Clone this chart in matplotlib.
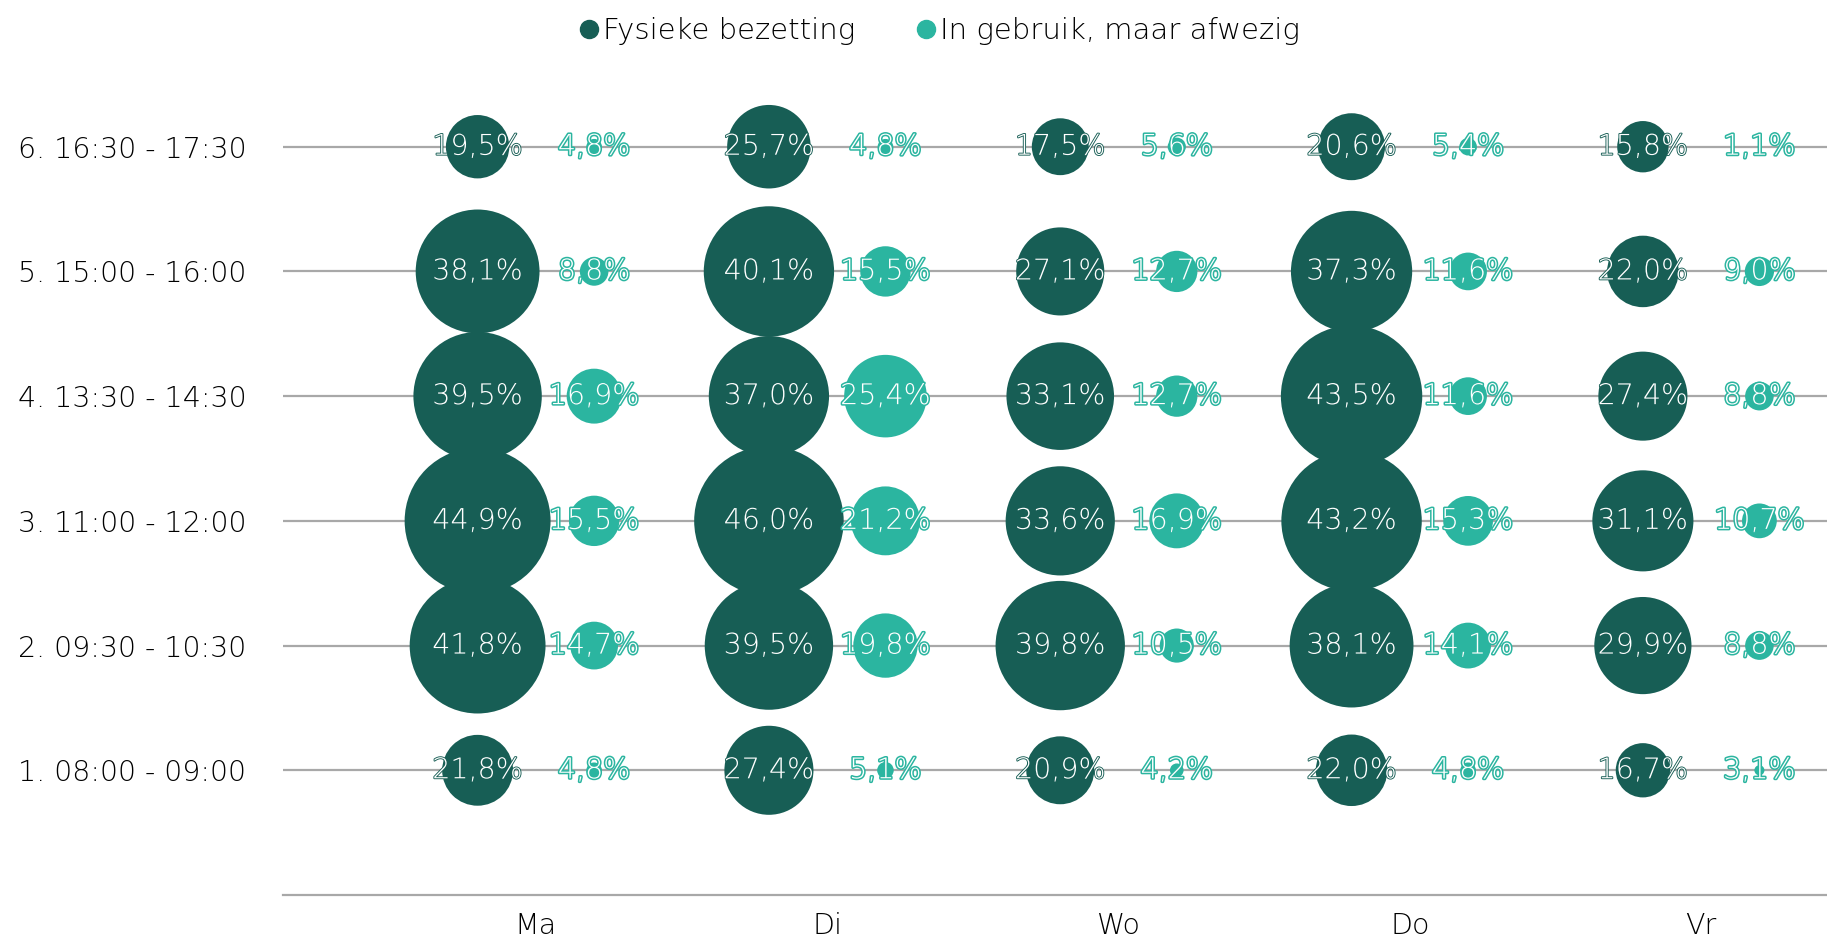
import matplotlib
matplotlib.use("Agg")
import matplotlib.pyplot as plt
import matplotlib.patheffects as pe
from matplotlib.lines import Line2D
import numpy as np

days = ["Ma", "Di", "Wo", "Do", "Vr"]
slots = ["1. 08:00 - 09:00", "2. 09:30 - 10:30", "3. 11:00 - 12:00",
         "4. 13:30 - 14:30", "5. 15:00 - 16:00", "6. 16:30 - 17:30"]
series_names = ["Fysieke bezetting", "In gebruik, maar afwezig"]

# rows = time slots (1..6), columns = days
fysiek = [
    [21.8, 27.4, 20.9, 22.0, 16.7],
    [41.8, 39.5, 39.8, 38.1, 29.9],
    [44.9, 46.0, 33.6, 43.2, 31.1],
    [39.5, 37.0, 33.1, 43.5, 27.4],
    [38.1, 40.1, 27.1, 37.3, 22.0],
    [19.5, 25.7, 17.5, 20.6, 15.8],
]
afwezig = [
    [4.8, 5.1, 4.2, 4.8, 3.1],
    [14.7, 19.8, 10.5, 14.1, 8.8],
    [15.5, 21.2, 16.9, 15.3, 10.7],
    [16.9, 25.4, 12.7, 11.6, 8.8],
    [8.8, 15.5, 12.7, 11.6, 9.0],
    [4.8, 4.8, 5.6, 5.4, 1.1],
]

dark = "#175e55"
teal = "#2bb5a0"
grid_c = "#a8a8a8"

plt.rcParams['font.family'] = ['DejaVu Sans']
plt.rcParams['font.weight'] = 'light'
FS = 20.5
W, H, DPI = 1827, 940, 100
fig = plt.figure(figsize=(W / DPI, H / DPI), dpi=DPI)
ax = fig.add_axes([283 / W, 1 - 895 / H, 1 - 283 / W, (895 - 22) / H])
ax.set_xlim(-0.868, 4.432)
ax.set_ylim(0, 7)

for k in range(1, 7):
    ax.axhline(k, color=grid_c, lw=1.6, zorder=1)

px2pt = 72 / DPI
scale = 3.25  # diameter px per percent
for si, (data, col, off, slw) in enumerate([(fysiek, dark, -0.2, 1.3), (afwezig, teal, 0.2, 2.2)]):
    arr = np.array(data)
    for r in range(arr.shape[0]):
        y = r + 1
        xs = np.arange(len(days)) + off
        sizes = (arr[r] * scale * px2pt) ** 2
        ax.scatter(xs, [y] * len(xs), s=sizes, color=col, edgecolors='none', zorder=2 + si)
        for x, v in zip(xs, arr[r]):
            ax.text(x, y, f"{v:.1f}%".replace(".", ","), ha='center', va='center',
                    fontsize=FS, color='white', zorder=5, fontweight='light',
                    path_effects=[pe.withStroke(linewidth=slw, foreground=col)])

ax.set_yticks(range(1, 7))
ax.set_yticklabels(slots, fontsize=FS, color='black', fontweight='light')
ax.tick_params(axis='y', length=0, pad=191)
for lbl in ax.get_yticklabels():
    lbl.set_horizontalalignment('left')
ax.set_xticks(range(len(days)))
ax.set_xticklabels(days, fontsize=FS, color='black', fontweight='light')
ax.tick_params(axis='x', length=0, pad=12)

for s in ['top', 'right', 'left']:
    ax.spines[s].set_visible(False)
ax.spines['bottom'].set_color(grid_c)
ax.spines['bottom'].set_linewidth(1.6)

handles = [Line2D([], [], marker='o', ls='none', color=c, markersize=13) for c in (dark, teal)]
fig.legend(handles, series_names, loc='center', bbox_to_anchor=(0.513, 1 - 31 / H), ncol=2,
           frameon=False, handletextpad=0.0, columnspacing=1.9, handlelength=1.0,
           prop={'size': 21, 'weight': 'light'}, labelcolor='black')

fig.savefig("out.png", dpi=DPI)
